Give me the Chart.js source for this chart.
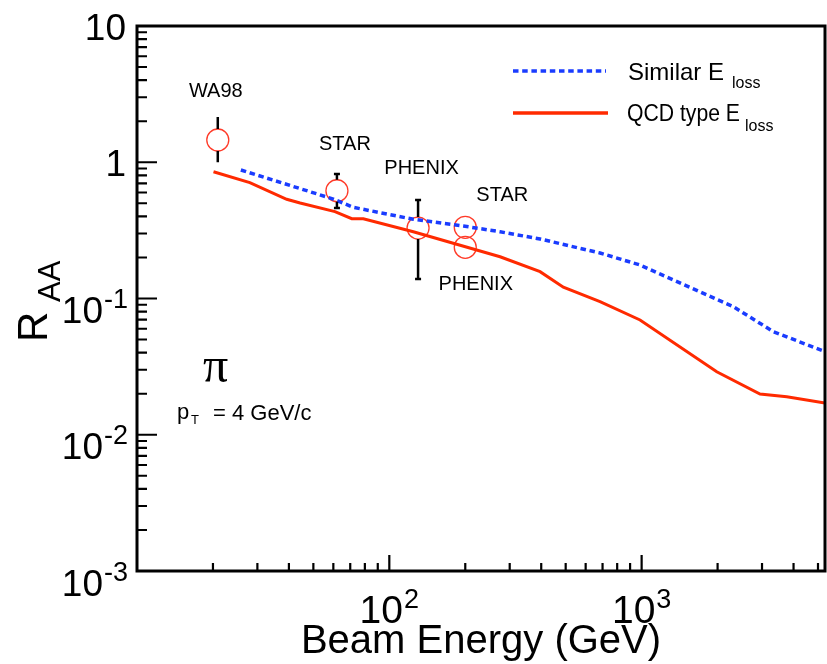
<!DOCTYPE html>
<html lang="en">
<head>
<meta charset="UTF-8">
<title>R_AA vs Beam Energy</title>
<script src="https://cdn.jsdelivr.net/npm/chart.js"></script>
<style>
  html, body { margin: 0; padding: 0; background: #fff; }
  #wrap { width: 827px; height: 664px; }
</style>
</head>
<body>
<div id="wrap"><canvas id="raaChart" width="827" height="664"></canvas></div>
<script>
    // QCD type energy loss curve
    const qcdEnergy = [20.1, 28.0, 39.2, 44.3, 60.9, 71.0, 78.9, 124.5, 274.7, 395.8, 489.5, 684, 985.6, 1985, 2946, 3760, 5330];
    const qcdRaa    = [0.852, 0.708, 0.535, 0.502, 0.434, 0.385, 0.385, 0.309, 0.2026, 0.1573, 0.1209, 0.0947, 0.0696, 0.0290, 0.0199, 0.0190, 0.0171];

    // similar energy loss curve
    const simEnergy = [25.8, 60.0, 71.9, 124.5, 196.5, 274.7, 395.8, 684, 985.6, 1336, 2309, 3327, 5330];
    const simRaa    = [0.877, 0.537, 0.467, 0.3814, 0.3404, 0.309, 0.2734, 0.2158, 0.1762, 0.1367, 0.0871, 0.0571, 0.0407];

    // measured points
    const expNames  = ['WA98', 'STAR', 'PHENIX', 'STAR', 'PHENIX'];
    const expEnergy = [20.9, 62.0, 130, 200, 200];
    const expRaa    = [1.457, 0.618, 0.329, 0.333, 0.2376];
    const expErrHi  = [2.15, 0.820, 0.528, null, null];
    const expErrLo  = [1.0, 0.4615, 0.139, null, null];

    // axes
    const xMajorTicks = [100, 1000];
    const xTickLabels = [['10', '2'], ['10', '3']];
    const yMajorTicks = [10, 1, 0.1, 0.01, 0.001];
    const yTickLabels = [['10', ''], ['1', ''], ['10', '-1'], ['10', '-2'], ['10', '-3']];

    const RED = '#ff2a00';
    const BLUE = '#1a3cff';
    const MARK_RED = '#ff3a28';
    const MARK_R = 11;
    const SANS = '"Liberation Sans", Arial, Helvetica, sans-serif';

    // label position relative to its point (px)
    const labelOffsets = [[-2, -48], [8, -46], [3.5, -59.5], [37, -31.5], [10.5, 37.5]];

    function minorTicks(min, max) {
        const out = [];
        for (let d = min; d < max; d *= 10) {
            for (let k = 2; k <= 9; k++) {
                const v = d * k;
                if (v < max) out.push(v);
            }
        }
        return out;
    }

    function font(size, fam) {
        return size + 'px ' + (fam || SANS);
    }

    // base text with a superscript, returns total width
    function powWidth(ctx, base, sup, bs, ss) {
        ctx.font = font(bs);
        let w = ctx.measureText(base).width;
        if (sup) {
            ctx.font = font(ss);
            w += 1 + ctx.measureText(sup).width;
        }
        return w;
    }

    function drawPow(ctx, base, sup, left, baseY, bs, ss, supRise) {
        ctx.textAlign = 'left';
        ctx.textBaseline = 'alphabetic';
        ctx.font = font(bs);
        ctx.fillText(base, left, baseY);
        if (sup) {
            const bw = ctx.measureText(base).width;
            ctx.font = font(ss);
            ctx.fillText(sup, left + bw + 1, baseY - supRise);
        }
    }

    const decorPlugin = {
        id: 'decor',
        afterDatasetsDraw(chart) {
            const ctx = chart.ctx;
            const xs = chart.scales.x, ys = chart.scales.y;
            ctx.save();
            ctx.strokeStyle = '#000';
            ctx.lineWidth = 2.5;
            expEnergy.forEach((e, i) => {
                if (expErrHi[i] == null) return;
                const px = xs.getPixelForValue(e);
                const pc = ys.getPixelForValue(expRaa[i]);
                const ph = ys.getPixelForValue(expErrHi[i]);
                const pl = ys.getPixelForValue(expErrLo[i]);
                ctx.beginPath();
                if (ph < pc - MARK_R) {
                    ctx.moveTo(px, ph); ctx.lineTo(px, pc - MARK_R);
                    if (i > 0) { ctx.moveTo(px - 3, ph); ctx.lineTo(px + 3, ph); }
                }
                if (pl > pc + MARK_R) {
                    ctx.moveTo(px, pc + MARK_R); ctx.lineTo(px, pl);
                    if (i > 0) { ctx.moveTo(px - 3, pl); ctx.lineTo(px + 3, pl); }
                }
                ctx.stroke();
            });
            ctx.restore();
        },
        afterDraw(chart) {
            const ctx = chart.ctx;
            const a = chart.chartArea;
            const xs = chart.scales.x, ys = chart.scales.y;
            ctx.save();
            ctx.fillStyle = '#000';
            ctx.strokeStyle = '#000';

            // frame
            ctx.lineWidth = 3;
            ctx.strokeRect(a.left, a.top, a.right - a.left, a.bottom - a.top);

            // ticks, drawn inside
            ctx.lineWidth = 2.2;
            ctx.beginPath();
            yMajorTicks.forEach(v => {
                const py = ys.getPixelForValue(v);
                ctx.moveTo(a.left, py); ctx.lineTo(a.left + 20, py);
            });
            minorTicks(0.001, 10).forEach(v => {
                const py = ys.getPixelForValue(v);
                ctx.moveTo(a.left, py); ctx.lineTo(a.left + 10, py);
            });
            xMajorTicks.forEach(v => {
                const px = xs.getPixelForValue(v);
                ctx.moveTo(px, a.bottom); ctx.lineTo(px, a.bottom - 16);
            });
            minorTicks(10, 5330).forEach(v => {
                if (xMajorTicks.includes(v)) return;
                const px = xs.getPixelForValue(v);
                ctx.moveTo(px, a.bottom); ctx.lineTo(px, a.bottom - 8);
            });
            ctx.stroke();

            // y tick labels
            yMajorTicks.forEach((v, i) => {
                const py = ys.getPixelForValue(v);
                const [b, s] = yTickLabels[i];
                const w = powWidth(ctx, b, s, 37, 27);
                const right = s ? 128 : 126;
                const baseY = s ? py + 24.5 : py + 13.5;
                drawPow(ctx, b, s, right - w, baseY, 37, 27, 15);
            });

            // x tick labels
            xMajorTicks.forEach((v, i) => {
                const px = xs.getPixelForValue(v);
                const [b, s] = xTickLabels[i];
                const w = powWidth(ctx, b, s, 39, 27);
                drawPow(ctx, b, s, px - w / 2, 623, 39, 27, 15);
            });

            // x title
            ctx.font = font(40);
            ctx.textAlign = 'center';
            ctx.textBaseline = 'alphabetic';
            ctx.fillText('Beam Energy (GeV)', 481, 653);

            // y title, R with subscript AA
            ctx.save();
            ctx.translate(47, 342);
            ctx.rotate(-Math.PI / 2);
            ctx.textAlign = 'left';
            ctx.font = font(42);
            ctx.fillText('R', 0, 0);
            ctx.font = font(31);
            ctx.fillText('AA', 40, 13);
            ctx.restore();

            // pi and pT note
            ctx.textAlign = 'left';
            ctx.font = font(50, '"Liberation Serif", "DejaVu Serif", serif');
            ctx.fillText('\u03c0', 203, 382);
            ctx.font = font(22);
            ctx.fillText('p', 177, 419);
            ctx.font = font(13);
            ctx.fillText('T', 191, 424);
            ctx.font = font(22);
            ctx.fillText('= 4 GeV/c', 213, 420);

            // experiment names
            ctx.font = font(20);
            ctx.textAlign = 'center';
            ctx.textBaseline = 'middle';
            expNames.forEach((n, i) => {
                const px = xs.getPixelForValue(expEnergy[i]);
                const py = ys.getPixelForValue(expRaa[i]);
                ctx.fillText(n, px + labelOffsets[i][0], py + labelOffsets[i][1]);
            });

            // legend
            ctx.lineWidth = 3.5;
            ctx.strokeStyle = BLUE;
            ctx.setLineDash([5.5, 3.7]);
            ctx.beginPath(); ctx.moveTo(513, 71); ctx.lineTo(606, 71); ctx.stroke();
            ctx.setLineDash([]);
            ctx.strokeStyle = RED;
            ctx.beginPath(); ctx.moveTo(513, 113); ctx.lineTo(608, 113); ctx.stroke();

            ctx.fillStyle = '#000';
            ctx.textAlign = 'left';
            ctx.textBaseline = 'alphabetic';
            ctx.font = font(24);
            ctx.fillText('Similar E', 628, 80);
            ctx.fillText('QCD type E', 627, 121, 113);
            ctx.font = font(16);
            ctx.fillText('loss', 732, 88);
            ctx.fillText('loss', 745, 131);

            ctx.restore();
        }
    };

    window.onload = function() {
        new Chart(document.getElementById('raaChart'), {
            type: 'scatter',
            data: {
                datasets: [
                    {
                        label: 'QCD type Eloss',
                        data: qcdEnergy.map((e, i) => ({ x: e, y: qcdRaa[i] })),
                        showLine: true,
                        borderColor: RED,
                        borderWidth: 3,
                        pointRadius: 0,
                        tension: 0
                    },
                    {
                        label: 'Similar Eloss',
                        data: simEnergy.map((e, i) => ({ x: e, y: simRaa[i] })),
                        showLine: true,
                        borderColor: BLUE,
                        borderWidth: 3.5,
                        borderDash: [5.5, 3.7],
                        pointRadius: 0,
                        tension: 0
                    },
                    {
                        label: 'data',
                        data: expEnergy.map((e, i) => ({ x: e, y: expRaa[i] })),
                        pointRadius: MARK_R,
                        pointBorderColor: MARK_RED,
                        pointBackgroundColor: 'rgba(0,0,0,0)',
                        pointBorderWidth: 1.3
                    }
                ]
            },
            options: {
                responsive: false,
                animation: false,
                devicePixelRatio: 1,
                layout: { autoPadding: false, padding: { left: 137, top: 26, right: 2, bottom: 93 } },
                plugins: { legend: { display: false }, tooltip: { enabled: false } },
                scales: {
                    x: { type: 'logarithmic', min: 10, max: 5330, display: false },
                    y: { type: 'logarithmic', min: 0.001, max: 10, display: false }
                }
            },
            plugins: [decorPlugin]
        });
    };
</script>
</body>
</html>
